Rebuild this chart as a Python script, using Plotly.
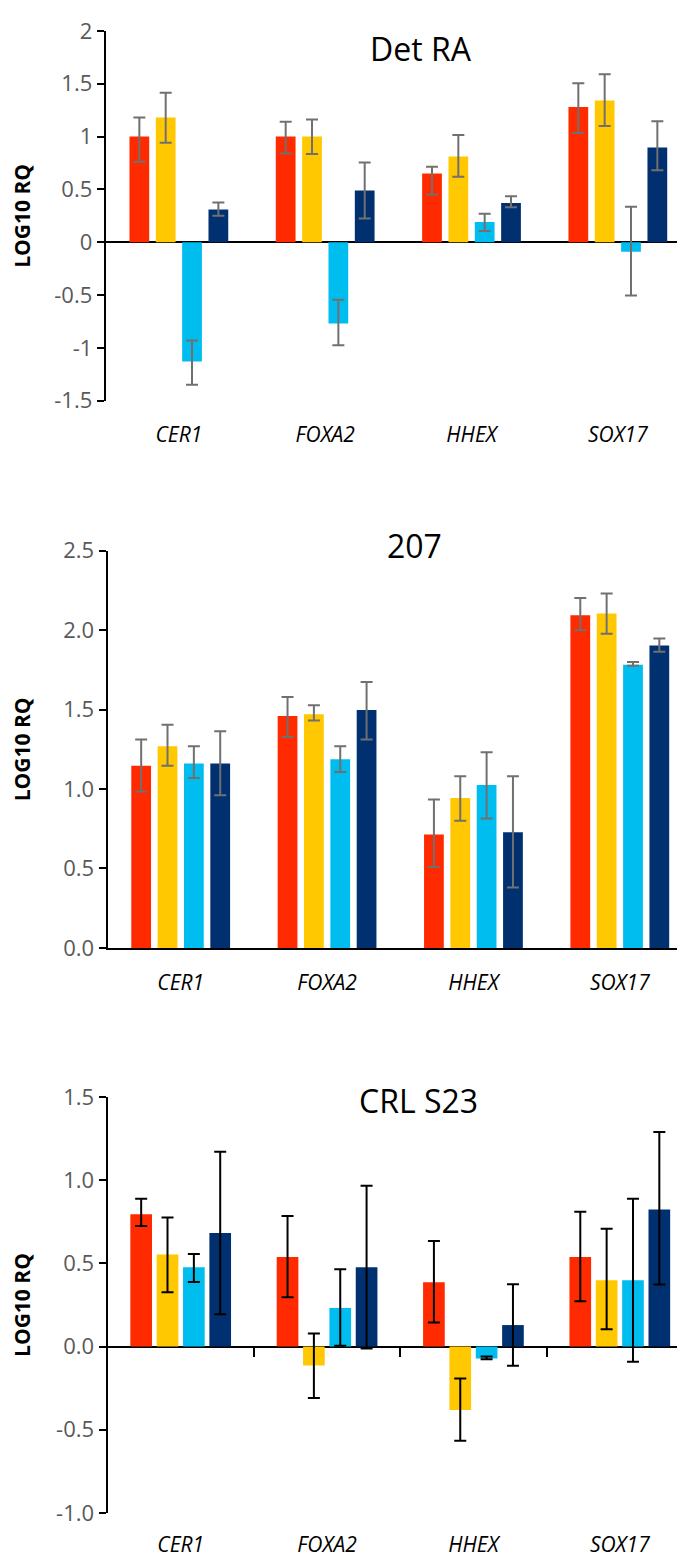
import plotly.graph_objects as go

# ---------------- data ----------------
genes = ["CER1", "FOXA2", "HHEX", "SOX17"]
series_names = ["Series 1", "Series 2", "Series 3", "Series 4"]
panel_titles = ["Det RA", "207", "CRL S23"]

# Panel 1: Det RA
detra_vals = [
    [1.00, 1.00, 0.65, 1.28],
    [1.18, 1.00, 0.81, 1.34],
    [-1.13, -0.77, 0.19, -0.09],
    [0.31, 0.49, 0.37, 0.895],
]
detra_err_plus = [
    [0.18, 0.14, 0.065, 0.225],
    [0.235, 0.16, 0.205, 0.25],
    [0.20, 0.225, 0.08, 0.425],
    [0.065, 0.265, 0.065, 0.25],
]
detra_err_minus = [
    [0.24, 0.16, 0.20, 0.246],
    [0.24, 0.165, 0.19, 0.24],
    [0.22, 0.205, 0.085, 0.415],
    [0.06, 0.265, 0.04, 0.215],
]

# Panel 2: 207
l207_vals = [
    [1.147, 1.459, 0.714, 2.093],
    [1.270, 1.471, 0.944, 2.105],
    [1.161, 1.188, 1.025, 1.782],
    [1.161, 1.498, 0.728, 1.904],
]
l207_err_plus = [
    [0.164, 0.121, 0.22, 0.109],
    [0.135, 0.056, 0.136, 0.126],
    [0.109, 0.082, 0.206, 0.017],
    [0.203, 0.175, 0.352, 0.043],
]
l207_err_minus = [
    [0.163, 0.132, 0.204, 0.093],
    [0.124, 0.039, 0.144, 0.127],
    [0.091, 0.081, 0.21, 0.006],
    [0.20, 0.187, 0.347, 0.04],
]

# Panel 3: CRL S23
crl_vals = [
    [0.796, 0.539, 0.386, 0.539],
    [0.553, -0.114, -0.382, 0.398],
    [0.477, 0.232, -0.072, 0.398],
    [0.683, 0.477, 0.129, 0.824],
]
crl_err_plus = [
    [0.092, 0.246, 0.248, 0.271],
    [0.222, 0.193, 0.19, 0.31],
    [0.08, 0.233, 0.012, 0.49],
    [0.488, 0.49, 0.246, 0.466],
]
crl_err_minus = [
    [0.072, 0.243, 0.241, 0.266],
    [0.227, 0.196, 0.185, 0.294],
    [0.089, 0.228, 0.004, 0.49],
    [0.489, 0.489, 0.244, 0.451],
]

# tick labels
p1_tickvals = [2, 1.5, 1, 0.5, 0, -0.5, -1, -1.5]
p1_ticktext = ["2", "1.5", "1", "0.5", "0", "-0.5", "-1", "-1.5"]
p2_tickvals = [0, 0.5, 1.0, 1.5, 2.0, 2.5]
p2_ticktext = ["0.0", "0.5", "1.0", "1.5", "2.0", "2.5"]
p3_tickvals = [-1.0, -0.5, 0, 0.5, 1.0, 1.5]
p3_ticktext = ["-1.0", "-0.5", "0.0", "0.5", "1.0", "1.5"]

# ---------------- style ----------------
W, H = 685, 1564
colors = ["#FF2A00", "#FFC800", "#00BDF0", "#00306F"]
FONT = "Open Sans"

panels = [
    dict(vals=detra_vals, ep=detra_err_plus, em=detra_err_minus, rng=[-1.5, 2.0],
         top=7, bot=384, x0=97.7, x1=683, tv=p1_tickvals, tt=p1_ticktext,
         errc="#707070", bw=0.135, title_xy=(413, 25), lablen=15),
    dict(vals=l207_vals, ep=l207_err_plus, em=l207_err_minus, rng=[0, 2.5],
         top=537, bot=942, x0=99.5, x1=685, tv=p2_tickvals, tt=p2_ticktext,
         errc="#707070", bw=0.135, title_xy=(406, 532), lablen=15),
    dict(vals=crl_vals, ep=crl_err_plus, em=crl_err_minus, rng=[-1.0, 1.5],
         top=1094, bot=1518, x0=99.5, x1=685, tv=p3_tickvals, tt=p3_ticktext,
         errc="#000000", bw=0.148, title_xy=(410, 1098), lablen=13),
]

fig = go.Figure()
slot = 0.18
group_w = 4 * slot

for p_i, p in enumerate(panels):
    n = p_i + 1
    xa = "x" if n == 1 else f"x{n}"
    ya = "y" if n == 1 else f"y{n}"
    for s in range(4):
        off = -group_w / 2 + s * slot + (slot - p["bw"]) / 2
        fig.add_trace(go.Bar(
            x=genes, y=p["vals"][s], name=series_names[s],
            marker=dict(color=colors[s], line=dict(width=0)),
            width=p["bw"], offset=off,
            error_y=dict(type="data", array=p["ep"][s], arrayminus=p["em"][s],
                         symmetric=False, color=p["errc"], thickness=2, width=6),
            xaxis=xa, yaxis=ya, showlegend=False,
        ))

    d0 = 1 - p["bot"] / H
    d1 = 1 - p["top"] / H
    dx0 = p["x0"] / W
    dx1 = min(p["x1"] / W, 1.0)
    xkey = "xaxis" if n == 1 else f"xaxis{n}"
    ykey = "yaxis" if n == 1 else f"yaxis{n}"
    fig.layout[xkey] = dict(
        domain=[dx0, dx1], anchor=ya, type="category",
        categoryorder="array", categoryarray=genes, range=[-0.5, 3.5],
        showline=(n == 2), linecolor="black", linewidth=2,
        ticks="outside", ticklen=p["lablen"], tickcolor="rgba(0,0,0,0)",
        tickfont=dict(family=FONT, size=21, color="black", style="italic"),
        showgrid=False, zeroline=False, fixedrange=True,
    )
    fig.layout[ykey] = dict(
        domain=[d0, d1], anchor=xa, range=p["rng"],
        tickvals=p["tv"], ticktext=p["tt"],
        showline=True, linecolor="black", linewidth=2,
        ticks="outside", ticklen=7, tickwidth=2, tickcolor="black",
        tickfont=dict(family=FONT, size=22, color="#595959"),
        showgrid=False, zeroline=(n != 2), zerolinecolor="black", zerolinewidth=2,
        fixedrange=True,
    )
    # panel title
    tx, ty = p["title_xy"]
    fig.add_annotation(text=panel_titles[p_i], x=tx / W, y=1 - ty / H,
                       xref="paper", yref="paper", showarrow=False,
                       xanchor="center", yanchor="middle",
                       font=dict(family=FONT, size=32, color="black"))
    # y axis title
    fig.add_annotation(text="<b>LOG10 RQ</b>", x=14 / W, y=(d0 + d1) / 2,
                       xref="paper", yref="paper", showarrow=False, textangle=-90,
                       xanchor="center", yanchor="middle",
                       font=dict(family=FONT, size=21, color="black"))

# boundary tick marks on the zero line of panel 3
p3 = panels[2]
d0 = 1 - p3["bot"] / H
d1 = 1 - p3["top"] / H
zero_pos = d0 + (0 - p3["rng"][0]) / (p3["rng"][1] - p3["rng"][0]) * (d1 - d0)
fig.add_trace(go.Scatter(x=[], y=[], xaxis="x4", yaxis="y3", showlegend=False))
fig.layout["xaxis4"] = dict(
    overlaying="x3", anchor="free", position=zero_pos,
    domain=[p3["x0"] / W, 1.0], range=[-0.5, 3.5],
    tickvals=[0.5, 1.5, 2.5, 3.5], showticklabels=False,
    ticks="outside", ticklen=9, tickwidth=2, tickcolor="black",
    showline=False, showgrid=False, zeroline=False, fixedrange=True,
)

fig.update_layout(
    width=W, height=H, barmode="overlay",
    margin=dict(l=0, r=0, t=0, b=0),
    paper_bgcolor="white", plot_bgcolor="white",
    showlegend=False,
)

fig.write_html("out.html")
